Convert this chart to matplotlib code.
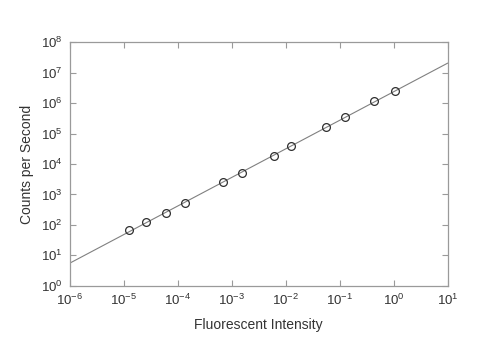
import numpy as np
import matplotlib.pyplot as plt

plt.rcParams['font.family'] = ['Liberation Sans', 'DejaVu Sans']

# measured points
intensity = [1.29e-5, 2.6e-5, 6.1e-5, 1.38e-4, 7.1e-4, 1.58e-3,
             6.05e-3, 1.25e-2, 5.6e-2, 0.128, 0.44, 1.08]
counts = [68.6, 123, 247, 515, 2570, 5070,
          17900, 38900, 167000, 340000, 1.16e6, 2.53e6]

x_ticks = [1e-6, 1e-5, 1e-4, 1e-3, 1e-2, 1e-1, 1e0, 1e1]
y_ticks = [1e0, 1e1, 1e2, 1e3, 1e4, 1e5, 1e6, 1e7, 1e8]

# power-law fit in log space
slope, icpt = np.polyfit(np.log10(intensity), np.log10(counts), 1)
xfit = np.array([x_ticks[0], x_ticks[-1]])
yfit = 10 ** (icpt + slope * np.log10(xfit))

fig = plt.figure(figsize=(5, 3.55), dpi=100)
ax = fig.add_axes([0.139, 0.195, 0.756, 0.686])

gray = '#9a9a9a'
ax.plot(xfit, yfit, color='#808080', lw=0.8, zorder=2)
ax.plot(intensity, counts, 'o', mfc='none', mec='#303030', mew=0.9, ms=5.6, zorder=3)

ax.set_xscale('log')
ax.set_yscale('log')
ax.set_xlim(x_ticks[0], x_ticks[-1])
ax.set_ylim(y_ticks[0], y_ticks[-1])
ax.set_xticks(x_ticks)
ax.set_yticks(y_ticks)
ax.minorticks_off()

for s in ax.spines.values():
    s.set_color(gray)
    s.set_linewidth(0.9)
ax.tick_params(which='major', direction='in', length=4, width=0.8, color=gray,
               top=True, right=True, labelsize=9.5, pad=5, labelcolor='#333333')

ax.set_xlabel('Fluorescent Intensity', fontsize=10, color='#333333', labelpad=7)
ax.set_ylabel('Counts per Second', fontsize=10, color='#333333', labelpad=5)

fig.savefig('out.png', dpi=100)
